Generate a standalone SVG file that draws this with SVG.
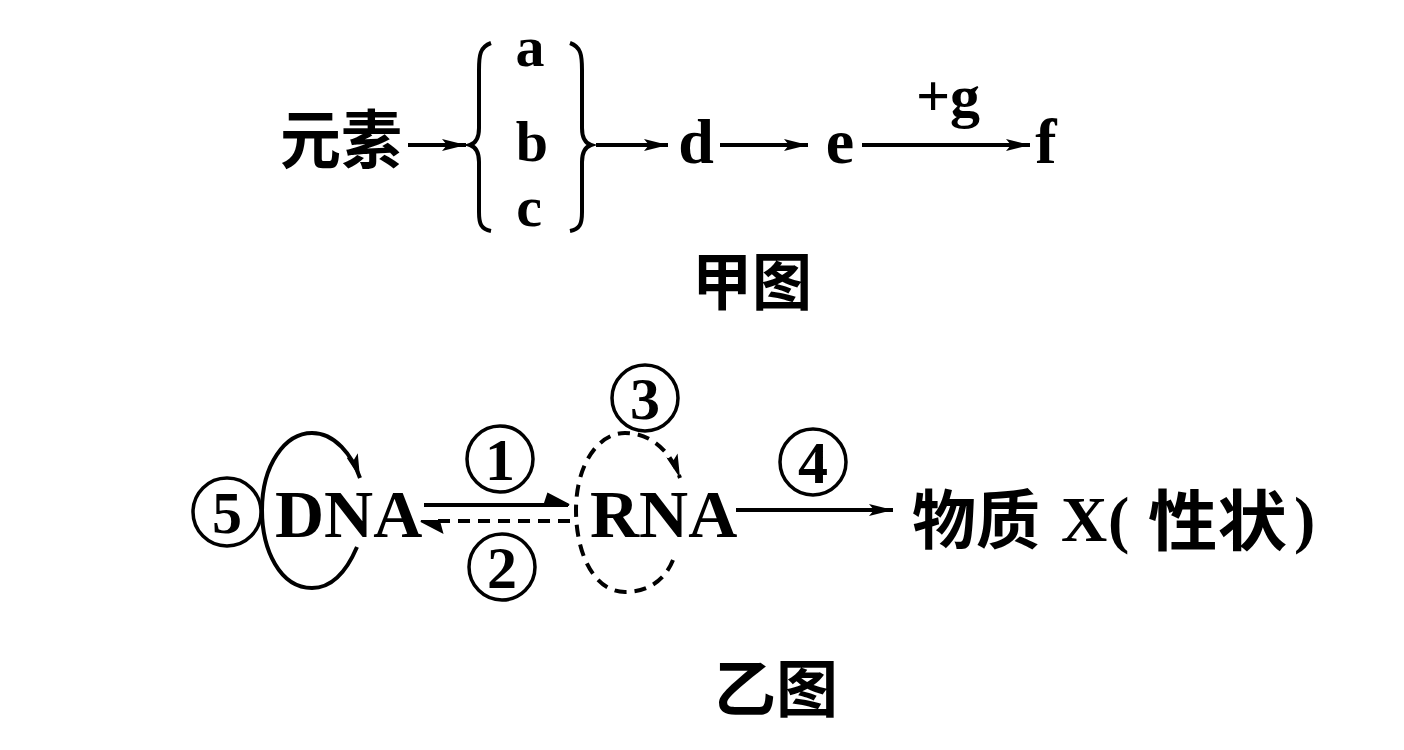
<svg xmlns="http://www.w3.org/2000/svg" width="1404" height="750" viewBox="0 0 1404 750">
<style>
.lat{font-family:"Liberation Serif","Times New Roman",serif;font-weight:bold;fill:#000}
.cjk{font-family:"Noto Sans CJK SC","Noto Sans CJK JP",sans-serif;font-weight:bold;fill:#000}
.ln{stroke:#000;stroke-width:4;fill:none}
.dash{stroke:#000;stroke-width:4;fill:none;stroke-dasharray:12 8}
.circ{stroke:#000;stroke-width:3.5;fill:none}
.num{font-family:"Liberation Serif","Times New Roman",serif;font-weight:bold;fill:#000;font-size:60px;text-anchor:middle}
</style>
<defs>
<marker id="ah" viewBox="0 0 24 12" refX="24" refY="6" markerWidth="24" markerHeight="12" markerUnits="userSpaceOnUse" orient="auto">
<path d="M0,0 L24,6 L0,12 L5,6 Z" fill="#000"/>
</marker>
</defs>
<rect width="1404" height="750" fill="#fff"/>

<g id="connectors">
<line class="ln" x1="408" y1="145" x2="466" y2="145" marker-end="url(#ah)"/>
<line class="ln" x1="596" y1="145" x2="668" y2="145" marker-end="url(#ah)"/>
<line class="ln" x1="720" y1="145" x2="808" y2="145" marker-end="url(#ah)"/>
<line class="ln" x1="862" y1="145" x2="1030" y2="145" marker-end="url(#ah)"/>
<line class="ln" x1="424" y1="505" x2="568" y2="505"/>
<path d="M548,494 L569,505 L545,503 Z" fill="#000" stroke="#000" stroke-width="2"/>
<line class="dash" x1="438" y1="521" x2="572" y2="521"/>
<path d="M421,521 L442,532 L439,521 Z" fill="#000" stroke="#000" stroke-width="2"/>
<path class="ln" d="M357,547 C345,575 330,588 312,588 C280,588 262,550 262,510 C262,465 285,433 312,433 C335,433 352,455 360,478" marker-end="url(#ah)"/>
<path class="dash" d="M673,560 C665,580 648,592 625,592 C595,592 576,555 576,510 C576,465 598,433 625,433 C650,433 670,450 680,478" marker-end="url(#ah)"/>
<line class="ln" x1="736" y1="510" x2="893" y2="510" marker-end="url(#ah)"/>
</g>

<g id="yuansu"><text class="cjk" x="280" y="163" font-size="64" textLength="122" lengthAdjust="spacingAndGlyphs">元素</text></g>
<g id="brace-left"><path class="ln" d="M491,43 C480,47 479,55 479,70 L479,128 C479,138 476,143 470,145 C476,147 479,152 479,162 L479,212 C479,224 481,229 491,231"/></g>
<g id="a"><text class="lat" x="530" y="66" font-size="58" text-anchor="middle">a</text></g>
<g id="b"><text class="lat" x="532" y="161" font-size="58" text-anchor="middle">b</text></g>
<g id="c"><text class="lat" x="529" y="226" font-size="58" text-anchor="middle">c</text></g>
<g id="brace-right"><path class="ln" d="M570,43 C581,47 582,55 582,70 L582,128 C582,138 585,143 591,145 C585,147 582,152 582,162 L582,212 C582,224 580,229 570,231"/></g>
<g id="d"><text class="lat" x="696" y="163" font-size="64" text-anchor="middle">d</text></g>
<g id="e"><text class="lat" x="840" y="163" font-size="64" text-anchor="middle">e</text></g>
<g id="g"><text class="lat" x="948" y="116" font-size="60" text-anchor="middle">+g</text></g>
<g id="f"><text class="lat" x="1046" y="163" font-size="64" text-anchor="middle">f</text></g>
<g id="jiatu"><text class="cjk" x="692" y="305" font-size="62" textLength="120" lengthAdjust="spacingAndGlyphs">甲图</text></g>

<g id="n5"><circle class="circ" cx="227" cy="512" r="34"/><text class="num" x="227" y="533">5</text></g>
<g id="dna"><text class="lat" x="275" y="537" font-size="68">DNA</text></g>
<g id="n1"><circle class="circ" cx="500" cy="459" r="33"/><text class="num" x="500" y="480">1</text></g>
<g id="n2"><circle class="circ" cx="502" cy="567" r="33"/><text class="num" x="502" y="588">2</text></g>
<g id="rna"><text class="lat" x="590" y="537" font-size="68">RNA</text></g>
<g id="n3"><circle class="circ" cx="645" cy="398" r="33"/><text class="num" x="645" y="419">3</text></g>
<g id="n4"><circle class="circ" cx="813" cy="462" r="33"/><text class="num" x="813" y="483">4</text></g>
<g id="wuzhi">
<text class="cjk" x="912" y="543" font-size="64" textLength="128" lengthAdjust="spacingAndGlyphs">物质</text>
<text class="lat" x="1061" y="541" font-size="64">X</text>
<text class="lat" x="1108" y="541" font-size="64">(</text>
<text class="cjk" x="1148" y="545" font-size="66" textLength="139" lengthAdjust="spacingAndGlyphs">性状</text>
<text class="lat" x="1294" y="541" font-size="64">)</text>
</g>
<g id="yitu"><text class="cjk" x="776" y="712" font-size="62" text-anchor="middle">乙图</text></g>
</svg>
